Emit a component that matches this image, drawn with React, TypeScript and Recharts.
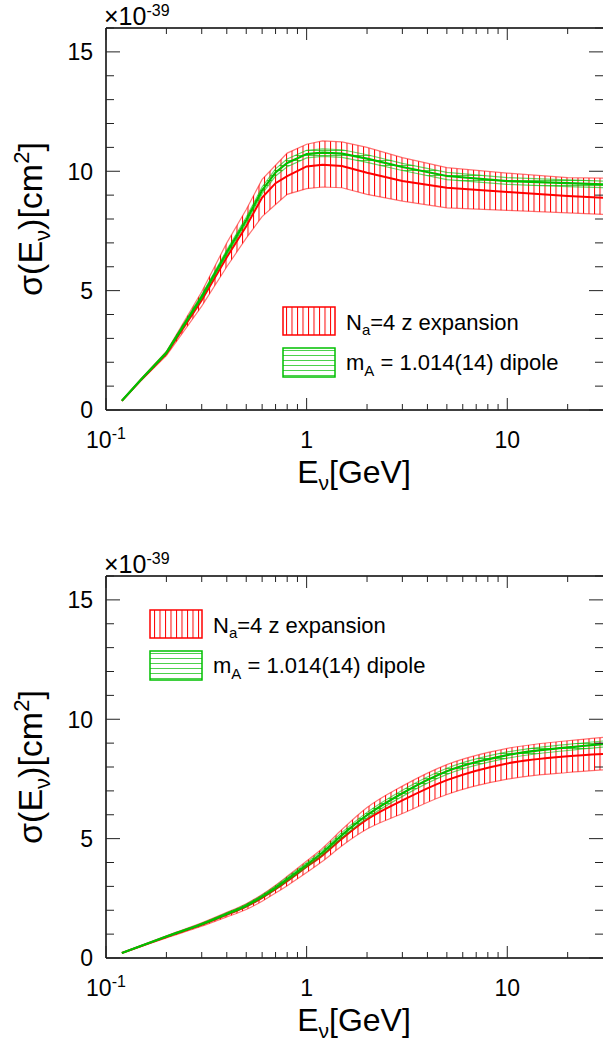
import React from 'react';
import { ComposedChart, Line, Area, XAxis, YAxis } from 'recharts';

const energies = [0.12, 0.15, 0.2, 0.3, 0.4, 0.5, 0.6, 0.7, 0.8, 1.0, 1.2, 1.5, 2, 3, 5, 10, 20, 30];

// top panel (units of 1e-39 cm^2)
const topRedCentral = [0.38, 1.27, 2.35, 4.6, 6.4, 7.7, 8.9, 9.5, 9.8, 10.2, 10.27, 10.22, 9.94, 9.59, 9.31, 9.13, 8.96, 8.89];
const topRedUpper = [0.4, 1.32, 2.45, 4.95, 7.0, 8.4, 9.66, 10.25, 10.76, 11.13, 11.27, 11.23, 11.0, 10.57, 10.15, 9.92, 9.73, 9.71];
const topRedLower = [0.37, 1.24, 2.28, 4.35, 6.0, 7.2, 8.1, 8.61, 9.03, 9.27, 9.34, 9.31, 9.03, 8.75, 8.47, 8.36, 8.26, 8.19];
const topGreenCentral = [0.39, 1.29, 2.4, 4.75, 6.6, 7.95, 9.2, 9.95, 10.35, 10.72, 10.78, 10.74, 10.53, 10.18, 9.8, 9.59, 9.5, 9.45];
const topGreenUpper = [0.4, 1.31, 2.44, 4.83, 6.7, 8.07, 9.34, 10.1, 10.51, 10.88, 10.94, 10.9, 10.69, 10.33, 9.95, 9.73, 9.64, 9.59];
const topGreenLower = [0.38, 1.27, 2.36, 4.67, 6.5, 7.83, 9.06, 9.8, 10.19, 10.56, 10.62, 10.58, 10.37, 10.03, 9.65, 9.45, 9.36, 9.31];

// bottom panel
const botRedCentral = [0.21, 0.5, 0.88, 1.39, 1.81, 2.15, 2.52, 2.88, 3.22, 3.82, 4.3, 5.0, 5.8, 6.6, 7.45, 8.15, 8.45, 8.54];
const botRedUpper = [0.22, 0.53, 0.93, 1.47, 1.91, 2.27, 2.66, 3.05, 3.42, 4.06, 4.6, 5.38, 6.3, 7.2, 8.1, 8.78, 9.1, 9.24];
const botRedLower = [0.2, 0.48, 0.84, 1.33, 1.72, 2.03, 2.38, 2.72, 3.03, 3.58, 4.05, 4.7, 5.4, 6.05, 6.85, 7.49, 7.77, 7.88];
const botGreenCentral = [0.21, 0.51, 0.9, 1.42, 1.85, 2.2, 2.58, 2.95, 3.3, 3.9, 4.42, 5.15, 5.98, 6.9, 7.82, 8.5, 8.82, 8.96];
const botGreenUpper = [0.215, 0.52, 0.92, 1.45, 1.89, 2.25, 2.64, 3.02, 3.38, 3.99, 4.52, 5.26, 6.1, 7.03, 7.95, 8.63, 8.95, 9.09];
const botGreenLower = [0.205, 0.5, 0.88, 1.39, 1.81, 2.15, 2.52, 2.88, 3.22, 3.81, 4.32, 5.04, 5.86, 6.77, 7.69, 8.37, 8.69, 8.83];

const xTicks = [0.1, 0.2, 0.3, 0.4, 0.5, 0.6, 0.7, 0.8, 0.9, 1, 2, 3, 4, 5, 6, 7, 8, 9, 10, 20];
const xMajor = [0.1, 1, 10];
const yTicks = [0, 1, 2, 3, 4, 5, 6, 7, 8, 9, 10, 11, 12, 13, 14, 15, 16];

const legendRed = 'a=4 z expansion';
const legendGreen = 'A = 1.014(14) dipole';

const FONT = '"Liberation Sans", Arial, Helvetica, sans-serif';
const RED = '#ff0000';
const GREEN = '#00c000';

function buildRows(rc: number[], ru: number[], rl: number[], gc: number[], gu: number[], gl: number[]) {
  return energies.map((E, i) => ({
    E,
    redC: rc[i],
    redU: ru[i],
    redL: rl[i],
    redBand: [rl[i], ru[i]],
    greenC: gc[i],
    greenU: gu[i],
    greenL: gl[i],
    greenBand: [gl[i], gu[i]],
  }));
}

const topRows = buildRows(topRedCentral, topRedUpper, topRedLower, topGreenCentral, topGreenUpper, topGreenLower);
const botRows = buildRows(botRedCentral, botRedUpper, botRedLower, botGreenCentral, botGreenUpper, botGreenLower);

const isMajorX = (v: number) => xMajor.some((m) => Math.abs(m - v) < 1e-9);

const BottomTick = (props: any) => {
  const { x, y, payload } = props;
  const v = payload.value;
  const major = isMajorX(v);
  const len = major ? 12 : 6;
  return (
    <g>
      <line x1={x} x2={x} y1={y} y2={y - len} stroke="#222" strokeWidth={1} />
      {major && (
        <text x={x} y={y + 38} textAnchor="middle" fontSize={23} fontFamily={FONT} fill="#000">
          {v === 0.1 ? (
            <>
              10<tspan dy={-9} fontSize={16}>-1</tspan>
            </>
          ) : (
            String(v)
          )}
        </text>
      )}
    </g>
  );
};

const TopTick = (props: any) => {
  const { x, y, payload } = props;
  const major = isMajorX(payload.value);
  const len = major ? 12 : 6;
  return <line x1={x} x2={x} y1={y} y2={y + len} stroke="#222" strokeWidth={1} />;
};

const LeftTick = (props: any) => {
  const { x, y, payload } = props;
  const v = payload.value;
  const major = v % 5 === 0;
  const len = major ? 14 : 8;
  return (
    <g>
      <line x1={x} x2={x + len} y1={y} y2={y} stroke="#222" strokeWidth={1} />
      {major && (
        <text x={x - 13} y={y} dy="0.36em" textAnchor="end" fontSize={23} fontFamily={FONT} fill="#000">
          {v}
        </text>
      )}
    </g>
  );
};

const RightTick = (props: any) => {
  const { x, y, payload } = props;
  const major = payload.value % 5 === 0;
  const len = major ? 14 : 8;
  return <line x1={x} x2={x - len} y1={y} y2={y} stroke="#222" strokeWidth={1} />;
};

function Panel({ rows, top, legendX, legendY, curve }: { rows: any[]; top: number; legendX: number; legendY: number; curve: any }) {
  return (
    <div style={{ position: 'absolute', left: 0, top, width: 604, height: 500 }}>
      <ComposedChart width={604} height={500} data={rows} margin={{ top: 0, right: 0, bottom: 0, left: 0 }}>
        <XAxis
          xAxisId="b"
          dataKey="E"
          type="number"
          scale="log"
          domain={[0.1, 30]}
          allowDataOverflow
          ticks={xTicks}
          interval={0}
          height={90}
          tickSize={0}
          tickMargin={0}
          tickLine={false}
          axisLine={{ stroke: '#000', strokeWidth: 1.5 }}
          tick={BottomTick}
        />
        <XAxis
          xAxisId="t"
          orientation="top"
          dataKey="E"
          type="number"
          scale="log"
          domain={[0.1, 30]}
          allowDataOverflow
          ticks={xTicks}
          interval={0}
          height={28}
          tickSize={0}
          tickMargin={0}
          tickLine={false}
          axisLine={{ stroke: '#000', strokeWidth: 1.5 }}
          tick={TopTick}
        />
        <YAxis
          yAxisId="l"
          type="number"
          domain={[0, 16]}
          allowDataOverflow
          ticks={yTicks}
          interval={0}
          width={106}
          tickSize={0}
          tickMargin={0}
          tickLine={false}
          axisLine={{ stroke: '#000', strokeWidth: 1.5 }}
          tick={LeftTick}
        />
        <YAxis
          yAxisId="r"
          orientation="right"
          type="number"
          domain={[0, 16]}
          allowDataOverflow
          ticks={yTicks}
          interval={0}
          width={1}
          tickSize={0}
          tickMargin={0}
          tickLine={false}
          axisLine={false}
          tick={RightTick}
        />
        <Area xAxisId="b" yAxisId="l" type={curve} dataKey="redBand" stroke="none" fill="url(#vhatchRed)" fillOpacity={1} isAnimationActive={false} />
        <Line xAxisId="b" yAxisId="l" type={curve} dataKey="redU" stroke={RED} strokeOpacity={0.55} strokeWidth={1.2} dot={false} isAnimationActive={false} />
        <Line xAxisId="b" yAxisId="l" type={curve} dataKey="redL" stroke={RED} strokeOpacity={0.55} strokeWidth={1.2} dot={false} isAnimationActive={false} />
        <Line xAxisId="b" yAxisId="l" type={curve} dataKey="redC" stroke={RED} strokeWidth={2} dot={false} isAnimationActive={false} />
        <Area xAxisId="b" yAxisId="l" type={curve} dataKey="greenBand" stroke="none" fill="url(#hhatchGreen)" fillOpacity={1} isAnimationActive={false} />
        <Line xAxisId="b" yAxisId="l" type={curve} dataKey="greenU" stroke={GREEN} strokeOpacity={0.6} strokeWidth={1.2} dot={false} isAnimationActive={false} />
        <Line xAxisId="b" yAxisId="l" type={curve} dataKey="greenL" stroke={GREEN} strokeOpacity={0.6} strokeWidth={1.2} dot={false} isAnimationActive={false} />
        <Line xAxisId="b" yAxisId="l" type={curve} dataKey="greenC" stroke={GREEN} strokeWidth={2.2} dot={false} isAnimationActive={false} />
      </ComposedChart>
      <svg width={604} height={500} style={{ position: 'absolute', left: 0, top: 0, pointerEvents: 'none' }}>
        <text x={104} y={25} fontSize={25} fontFamily={FONT} fill="#000">
          ×10<tspan dy={-9} fontSize={16}>-39</tspan>
        </text>
        <text
          x={42}
          y={219}
          transform="rotate(-90 42 219)"
          textAnchor="middle"
          fontSize={34}
          fontFamily={FONT}
          fill="#000"
        >
          σ(E<tspan dy={8} fontSize={22}>ν</tspan>
          <tspan dy={-8}>)[cm</tspan>
          <tspan dy={-13} fontSize={22}>2</tspan>
          <tspan dy={13}>]</tspan>
        </text>
        <text x={354} y={483} textAnchor="middle" fontSize={32} fontFamily={FONT} fill="#000">
          E<tspan dy={7} fontSize={21}>ν</tspan>
          <tspan dy={-7}>[GeV]</tspan>
        </text>
        <rect x={legendX} y={legendY} width={52} height={28} fill="url(#vhatchRed)" stroke={RED} strokeWidth={1.5} />
        <rect x={legendX} y={legendY + 41} width={52} height={29} fill="url(#hhatchGreen)" stroke={GREEN} strokeWidth={1.5} />
        <text x={legendX + 63} y={legendY + 23} fontSize={22} fontFamily={FONT} fill="#000">
          N<tspan dy={5} fontSize={15}>{legendRed.slice(0, 1)}</tspan>
          <tspan dy={-5}>{legendRed.slice(1)}</tspan>
        </text>
        <text x={legendX + 63} y={legendY + 63} fontSize={22} fontFamily={FONT} fill="#000">
          m<tspan dy={6} fontSize={15}>{legendGreen.slice(0, 1)}</tspan>
          <tspan dy={-6}>{legendGreen.slice(1)}</tspan>
        </text>
      </svg>
    </div>
  );
}

export default function App() {
  return (
    <div style={{ position: 'absolute', left: 0, top: 0, width: 603, height: 1042, overflow: 'hidden', background: '#fff' }}>
      <svg width={0} height={0} style={{ position: 'absolute' }}>
        <defs>
          <pattern id="vhatchRed" patternUnits="userSpaceOnUse" width={5.5} height={6}>
            <line x1={0.5} y1={0} x2={0.5} y2={6} stroke={RED} strokeWidth={1} />
          </pattern>
          <pattern id="hhatchGreen" patternUnits="userSpaceOnUse" width={6} height={5}>
            <line x1={0} y1={0.5} x2={6} y2={0.5} stroke={GREEN} strokeOpacity={0.7} strokeWidth={1} />
          </pattern>
        </defs>
      </svg>
      <Panel rows={topRows} top={0} legendX={283} legendY={307} curve="linear" />
      <Panel rows={botRows} top={548} legendX={150} legendY={62} curve="monotone" />
    </div>
  );
}
